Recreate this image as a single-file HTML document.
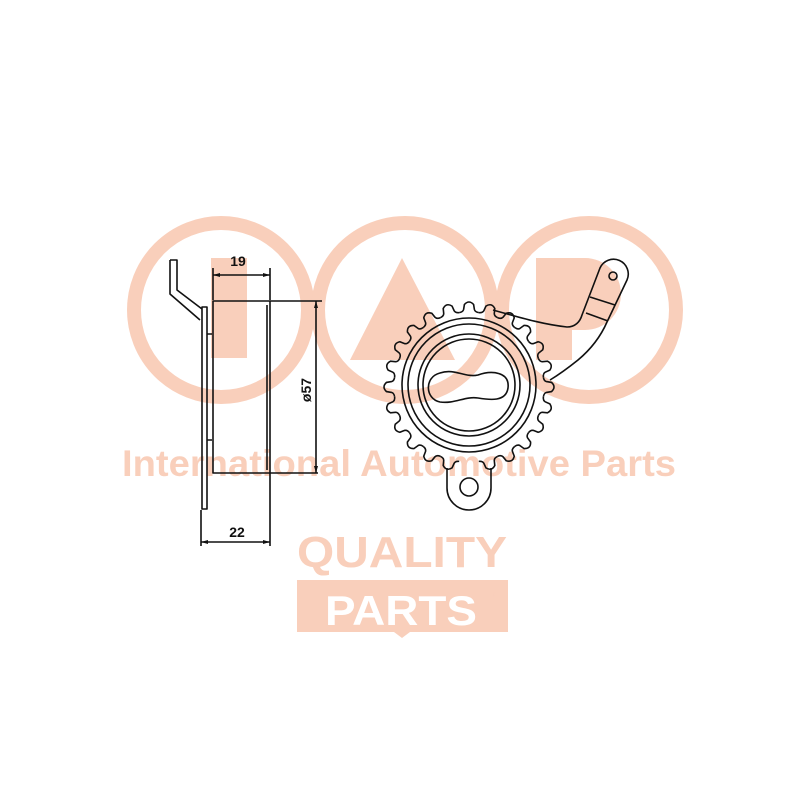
<!DOCTYPE html>
<html><head><meta charset="utf-8"><style>
html,body{margin:0;padding:0;background:#fff;width:800px;height:800px;overflow:hidden}
svg{display:block}
</style></head><body>
<svg width="800" height="800" viewBox="0 0 800 800" xmlns="http://www.w3.org/2000/svg" xmlns:xlink="http://www.w3.org/1999/xlink">
<defs>
  <path id="tooth" d="M-9.79,-74.36 Q-6,-75 -5.4,-77.5 L-4.6,-82.5 Q0,-87.5 4.6,-82.5 L5.4,-77.5 Q6,-75 9.79,-74.36" fill="none" stroke="#111" stroke-width="1.6"/>
</defs>
<g fill="#f9cfbb" stroke="none">
  <g fill="none" stroke="#f9cfbb" stroke-width="14">
    <circle cx="221" cy="310" r="87"/>
    <circle cx="405" cy="310" r="87"/>
    <circle cx="589" cy="310" r="87"/>
  </g>
  <rect x="211" y="258" width="36" height="100"/>
  <polygon points="402,258 350,360 455,360"/>
  <path d="M536,258 H585 A36,36 0 0 1 585,330 H572 V360 H536 Z"/>
  <text x="122" y="476" font-family="Liberation Sans, sans-serif" font-weight="bold" font-size="37" textLength="554" lengthAdjust="spacingAndGlyphs">International Automotive Parts</text>
  <text x="297" y="567" font-family="Liberation Sans, sans-serif" font-weight="bold" font-size="44" textLength="210" lengthAdjust="spacingAndGlyphs">QUALITY</text>
  <path d="M297,580 H508 V632 H410 L402,638 L394,632 H297 Z"/>
  <text x="325" y="625" fill="#fff" font-family="Liberation Sans, sans-serif" font-weight="bold" font-size="42" textLength="152" lengthAdjust="spacingAndGlyphs">PARTS</text>
  <text x="492" y="597" font-family="Liberation Sans, sans-serif" font-size="6">®</text>
</g>
<g fill="none" stroke="#111" stroke-width="1.6" stroke-linejoin="round">
  <path d="M170,260 H177 V290 L202,309"/>
  <path d="M170,260 V294 L200,320"/>
  <rect x="202" y="307" width="5" height="202"/>
  <path d="M207,334 H212 M207,440 H212"/>
  <rect x="213" y="301" width="57" height="172"/>
  <path d="M267,305 V470"/>
  <path d="M270,301 H322 M270,473 H318"/>
  <path d="M213,268 V300 M270,268 V300 M213,275 H270"/>
  <path d="M316,301 V473"/>
  <path d="M201,510 V546 M270,473 V546 M201,542 H270"/>
  <circle cx="469" cy="385" r="67"/>
  <circle cx="469" cy="385" r="61"/>
  <circle cx="469" cy="385" r="51"/>
  <circle cx="469" cy="385" r="46"/>
  <path d="M440,373 C455,368 465,378 478,375 C492,370 510,372 508,388 C506,402 490,400 478,398 C465,396 455,404 440,402 C425,399 424,377 440,373 Z"/>
  <path d="M447,468 V488 A22,22 0 0 0 491,488 V468"/>
  <circle cx="469" cy="487" r="9"/>
  <path d="M493,310 C515,316 540,324 567,327 C575,327 580,322 582,315 L600,268 A14,14 0 0 1 627,280 L607,322 C600,338 590,350 578,360 C568,368 560,374 550,380"/>
  <circle cx="613" cy="276" r="4"/>
  <path d="M590,297 L615,305 M586,313 L608,321"/>
</g>
<g transform="translate(469,387)">
  <use xlink:href="#tooth" transform="rotate(0)"/>
  <use xlink:href="#tooth" transform="rotate(15)"/>
  <use xlink:href="#tooth" transform="rotate(30)"/>
  <use xlink:href="#tooth" transform="rotate(45)"/>
  <use xlink:href="#tooth" transform="rotate(60)"/>
  <use xlink:href="#tooth" transform="rotate(75)"/>
  <use xlink:href="#tooth" transform="rotate(90)"/>
  <use xlink:href="#tooth" transform="rotate(105)"/>
  <use xlink:href="#tooth" transform="rotate(120)"/>
  <use xlink:href="#tooth" transform="rotate(135)"/>
  <use xlink:href="#tooth" transform="rotate(150)"/>
  <use xlink:href="#tooth" transform="rotate(165)"/>
  <use xlink:href="#tooth" transform="rotate(195)"/>
  <use xlink:href="#tooth" transform="rotate(210)"/>
  <use xlink:href="#tooth" transform="rotate(225)"/>
  <use xlink:href="#tooth" transform="rotate(240)"/>
  <use xlink:href="#tooth" transform="rotate(255)"/>
  <use xlink:href="#tooth" transform="rotate(270)"/>
  <use xlink:href="#tooth" transform="rotate(285)"/>
  <use xlink:href="#tooth" transform="rotate(300)"/>
  <use xlink:href="#tooth" transform="rotate(315)"/>
  <use xlink:href="#tooth" transform="rotate(330)"/>
  <use xlink:href="#tooth" transform="rotate(345)"/>
</g>
<g fill="#111" font-family="Liberation Sans, sans-serif" font-weight="bold" font-size="14">
  <text x="238" y="266" text-anchor="middle">19</text>
  <text x="237" y="537" text-anchor="middle">22</text>
  <text transform="translate(311,390) rotate(-90)" text-anchor="middle">ø57</text>
</g>
<g fill="#111">
  <path d="M213,275 l7,-2 v4 Z M270,275 l-7,-2 v4 Z M201,542 l7,-2 v4 Z M270,542 l-7,-2 v4 Z M316,301 l-2,7 h4 Z M316,473 l-2,-7 h4 Z"/>
</g>
</svg>
</body></html>
